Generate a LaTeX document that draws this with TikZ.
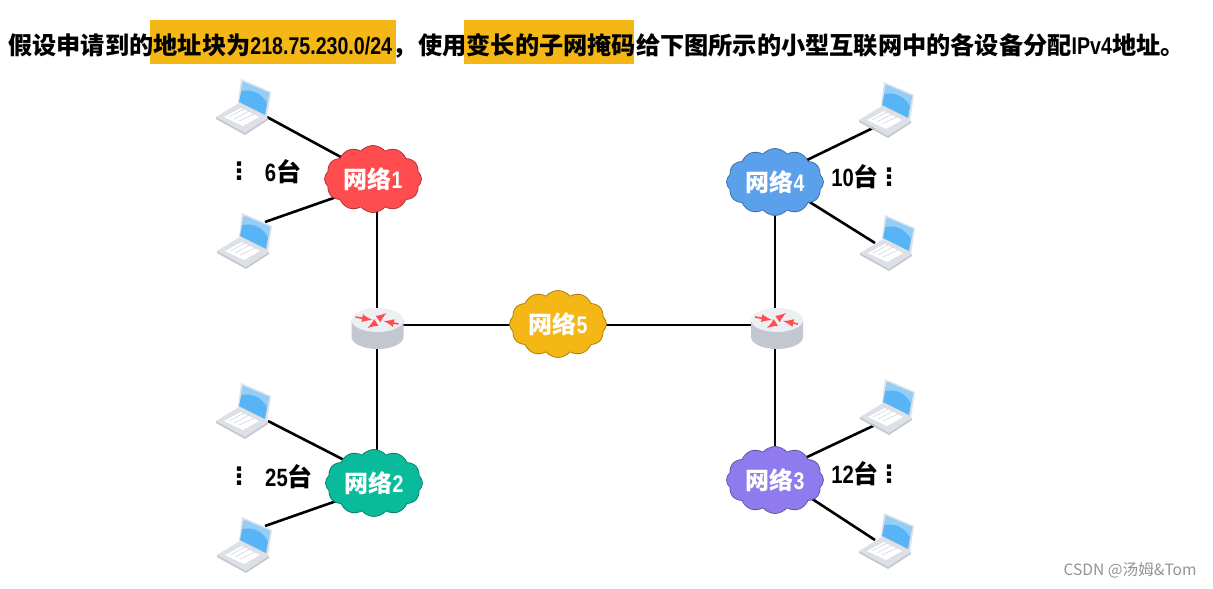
\documentclass[tikz,border=0pt]{standalone}
\usepackage{fontspec}
\setmainfont{Noto Sans CJK SC}
\newfontfamily\latinbold{Liberation Sans Bold}
\newfontfamily\wmfont{Noto Sans CJK SC}
\newfontfamily\dotsfont{DejaVu Sans Bold}
\usetikzlibrary{shapes.symbols, calc}
\definecolor{hiyellow}{HTML}{F5B716}
\definecolor{netred}{HTML}{FF4D4F}
\definecolor{netteal}{HTML}{0ABB9B}
\definecolor{netpurple}{HTML}{8F7BEE}
\definecolor{netblue}{HTML}{5AA0EB}
\definecolor{screenblue}{HTML}{58B4F4}
\definecolor{lapgray}{HTML}{DDE0E7}
\definecolor{lapedge}{HTML}{C3C7D0}
\newcommand{\nlat}[1]{\scalebox{.81}[1]{\latinbold #1}}

\tikzset{
    netcloud/.style={cloud, cloud puffs=12, cloud puff arc=100, cloud ignores aspect, draw=#1!70!black, fill=#1, line width=0.4pt,
        minimum width=48.5pt, minimum height=33.5pt, inner sep=0pt, text=white, font=\bfseries\fontsize{12}{14}\selectfont},
    count/.style={inner sep=0pt, font=\bfseries\fontsize{12.5}{14}\selectfont},
    vdots/.style={inner sep=0pt, font=\dotsfont\fontsize{12}{14}\selectfont},
    link/.style={line width=1.3pt},
    rarrow/.style={draw=red!70!white, line width=0.8pt, -latex},
    pics/laptop/.style={code={
        % base
        \fill[lapgray] (-51,0) -- (-28,-14) -- (1,1) -- (-22,16) -- cycle;
        \fill[lapedge] (-51,0) -- (-22,16) -- (1,1) -- (1,3) -- (-22,18) -- (-51,2) -- cycle;
        \fill[white] (-43,0) -- (-26,-9) -- (-8,0) -- (-24,9) -- cycle;
        \draw[lapedge, line width=0.2pt] (-38,0) -- (-23,-8) (-33,2) -- (-18,-6) (-28,4) -- (-13,-3);
        % screen
        \fill[lapgray] (-26,-38) -- (4,-25) -- (0,1) -- (-29,-14) -- cycle;
        \fill[screenblue] (-24,-35) -- (2,-24) -- (-2,-2) -- (-28,-15) -- cycle;
        \fill[screenblue!65!white] (-24,-35) -- (2,-24) -- (0,-14) .. controls (-6,-24) and (-14,-28) .. (-26,-26) -- cycle;
    }},
    pics/router/.style={code={
        \fill[lapedge] (-26,0) -- (-26,17) arc[start angle=180, end angle=360, x radius=26, y radius=-12] -- (26,0) -- cycle;
        \fill[lapgray!50] (0,0) ellipse[x radius=26, y radius=12];
        \draw[rarrow] (-22,-3) -- (-5,0);
        \draw[rarrow] (21,4) -- (6,1);
        \draw[rarrow] (2,-2) -- (9,-7);
        \draw[rarrow] (-2,3) -- (-10,8);
    }}
}

\begin{document}
\begin{tikzpicture}[x=0.5pt, y=-0.5pt]
\useasboundingbox (0,0) rectangle (1213,588);

% Title
\fill[hiyellow] (150,20) rectangle (396,64);
\fill[hiyellow] (464,20) rectangle (634,64);
\node[anchor=west, inner sep=0pt, font=\bfseries\fontsize{12.1}{14}\selectfont] (title) at (8,46)
    {假设申请到的地址块为\nlat{218.75.230.0/24}，\kern1pt 使用变长的子网掩码给下图所示的小型互联网中的各设备分配\nlat{IPv4}地址。};

% Routers
\coordinate (r1) at (377,325);
\coordinate (r2) at (775,325);

% Links from the laptops
\coordinate (lap1) at (267,117);
\coordinate (lap2) at (265,222);
\coordinate (lap3) at (268,421);
\coordinate (lap4) at (265,526);
\coordinate (lap5) at (875,127);
\coordinate (lap6) at (875,243);
\coordinate (lap7) at (875,425);
\coordinate (lap8) at (875,540);
\coordinate (hub1) at (350,162);
\coordinate (hub2) at (345,194);
\coordinate (hub3) at (350,463);
\coordinate (hub4) at (345,498);
\coordinate (hub5) at (805,161);
\coordinate (hub6) at (800,196);
\coordinate (hub7) at (805,458);
\coordinate (hub8) at (800,491);

\foreach \i in {1,...,8} {
    \draw[link] (lap\i) -- (hub\i);
}

% Backbone
\draw[link] (r1 |- 0,179) -- (r1);
\draw[link] (r1) -- (r1 |- 0,483);
\draw[link] (r2 |- 0,182) -- (r2);
\draw[link] (r2) -- (r2 |- 0,480);
\draw[link] (r1) -- (r2);

% Clouds
\node[netcloud=netred] (net1) at (373,179) {网络\nlat{1}};
\node[netcloud=netteal] (net2) at (374,483) {网络\nlat{2}};
\node[netcloud=netpurple] (net3) at (775,480) {网络\nlat{3}};
\node[netcloud=netblue] (net4) at (775,182) {网络\nlat{4}};
\node[netcloud=hiyellow] (net5) at (558,324) {网络\nlat{5}};

% Laptops and routers
\pic at (267,117) {laptop};
\pic at (268,251) {laptop};
\pic at (267,421) {laptop};
\pic at (268,555) {laptop};
\pic at (910,120) {laptop};
\pic at (911,253) {laptop};
\pic at (911,417) {laptop};
\pic at (910,551) {laptop};
\pic at (377.5,320) {router};
\pic at (777,320) {router};

% Counts
\node[count] (c1) at (283,172) {\nlat{6}台};
\node[count] (c2) at (289,477) {\nlat{25}台};
\node[count] (c3) at (855,177) {\nlat{10}台};
\node[count] (c4) at (855,474) {\nlat{12}台};
\node[vdots] (d1) at (239,171) {⋮};
\node[vdots] (d2) at (239,476) {⋮};
\node[vdots] (d3) at (889,177) {⋮};
\node[vdots] (d4) at (889,474) {⋮};

% Watermark
\node[anchor=east, inner sep=0pt, text=gray!85, font=\wmfont\fontsize{7.8}{9}\selectfont] (wm) at (1197,570) {CSDN @汤姆\&Tom};

\end{tikzpicture}
\end{document}
